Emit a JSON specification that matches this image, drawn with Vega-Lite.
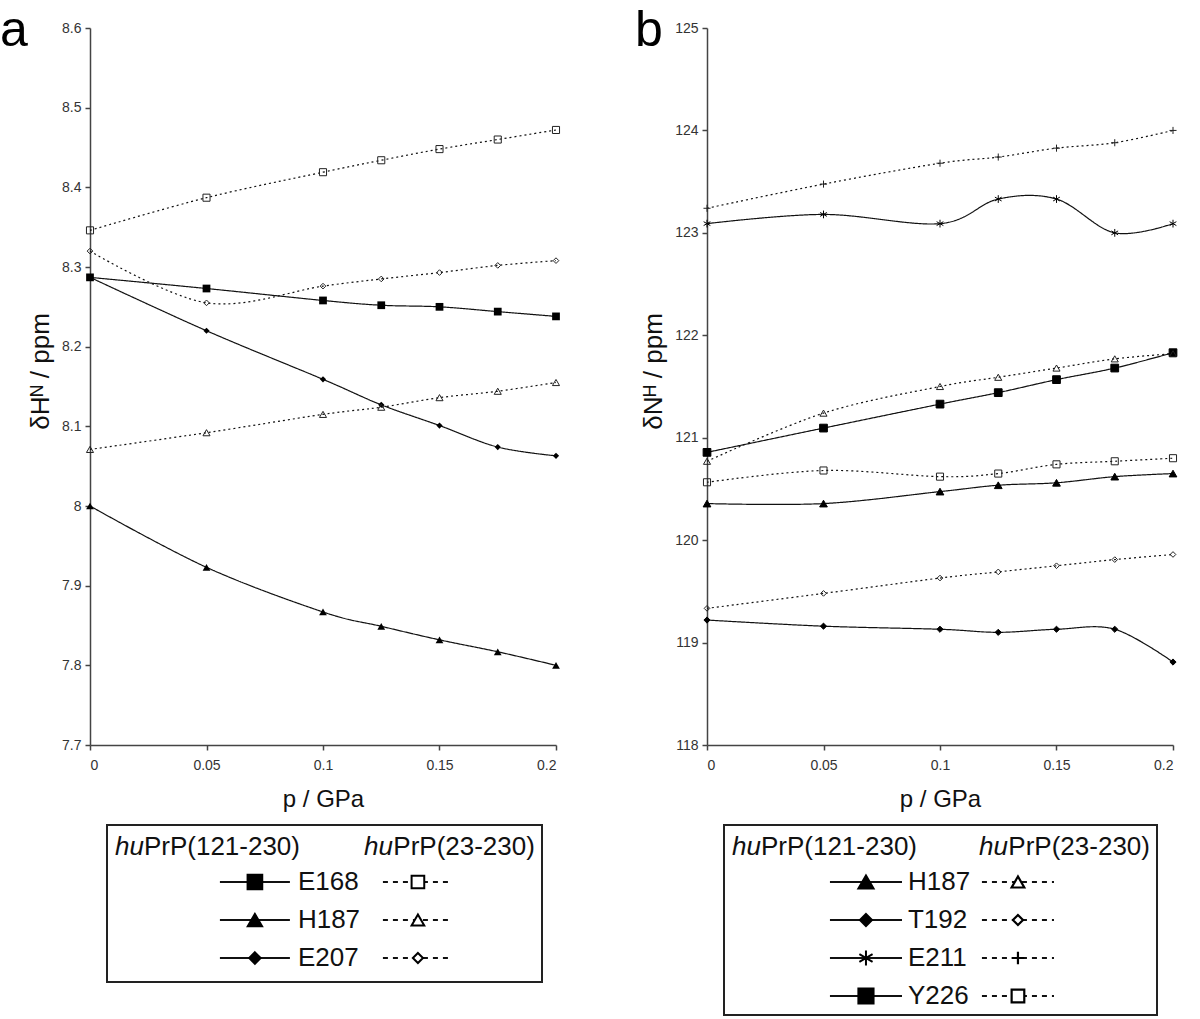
{
  "$schema": "https://vega.github.io/schema/vega-lite/v6.json",
  "padding": {"left": 0, "top": 6, "right": 0, "bottom": 0},
  "background": "white",
  "config": {
    "view": {"stroke": null},
    "font": "Liberation Sans",
    "axis": {"domainColor": "#444", "domainWidth": 1.5, "tickColor": "#444", "tickWidth": 1.5, "tickSize": 5, "labelFontSize": 14, "labelColor": "#333", "labelFont": "Liberation Sans", "titleFont": "Liberation Sans", "titleFontWeight": "normal", "titleColor": "#111", "grid": false},
    "text": {"font": "Liberation Sans", "color": "#111"}
  },
  "datasets": {
    "a": [
      {"residue":"E168","construct":"121-230","series":"E168 121-230","p":0,"shift":8.287},
      {"residue":"E168","construct":"121-230","series":"E168 121-230","p":0.05,"shift":8.273},
      {"residue":"E168","construct":"121-230","series":"E168 121-230","p":0.1,"shift":8.258},
      {"residue":"E168","construct":"121-230","series":"E168 121-230","p":0.125,"shift":8.252},
      {"residue":"E168","construct":"121-230","series":"E168 121-230","p":0.15,"shift":8.250},
      {"residue":"E168","construct":"121-230","series":"E168 121-230","p":0.175,"shift":8.244},
      {"residue":"E168","construct":"121-230","series":"E168 121-230","p":0.2,"shift":8.238},
      {"residue":"H187","construct":"121-230","series":"H187 121-230","p":0,"shift":8.000},
      {"residue":"H187","construct":"121-230","series":"H187 121-230","p":0.05,"shift":7.923},
      {"residue":"H187","construct":"121-230","series":"H187 121-230","p":0.1,"shift":7.867},
      {"residue":"H187","construct":"121-230","series":"H187 121-230","p":0.125,"shift":7.849},
      {"residue":"H187","construct":"121-230","series":"H187 121-230","p":0.15,"shift":7.832},
      {"residue":"H187","construct":"121-230","series":"H187 121-230","p":0.175,"shift":7.817},
      {"residue":"H187","construct":"121-230","series":"H187 121-230","p":0.2,"shift":7.800},
      {"residue":"E207","construct":"121-230","series":"E207 121-230","p":0,"shift":8.287},
      {"residue":"E207","construct":"121-230","series":"E207 121-230","p":0.05,"shift":8.220},
      {"residue":"E207","construct":"121-230","series":"E207 121-230","p":0.1,"shift":8.159},
      {"residue":"E207","construct":"121-230","series":"E207 121-230","p":0.125,"shift":8.127},
      {"residue":"E207","construct":"121-230","series":"E207 121-230","p":0.15,"shift":8.101},
      {"residue":"E207","construct":"121-230","series":"E207 121-230","p":0.175,"shift":8.074},
      {"residue":"E207","construct":"121-230","series":"E207 121-230","p":0.2,"shift":8.063},
      {"residue":"E168","construct":"23-230","series":"E168 23-230","p":0,"shift":8.346},
      {"residue":"E168","construct":"23-230","series":"E168 23-230","p":0.05,"shift":8.387},
      {"residue":"E168","construct":"23-230","series":"E168 23-230","p":0.1,"shift":8.419},
      {"residue":"E168","construct":"23-230","series":"E168 23-230","p":0.125,"shift":8.434},
      {"residue":"E168","construct":"23-230","series":"E168 23-230","p":0.15,"shift":8.448},
      {"residue":"E168","construct":"23-230","series":"E168 23-230","p":0.175,"shift":8.460},
      {"residue":"E168","construct":"23-230","series":"E168 23-230","p":0.2,"shift":8.472},
      {"residue":"H187","construct":"23-230","series":"H187 23-230","p":0,"shift":8.071},
      {"residue":"H187","construct":"23-230","series":"H187 23-230","p":0.05,"shift":8.092},
      {"residue":"H187","construct":"23-230","series":"H187 23-230","p":0.1,"shift":8.115},
      {"residue":"H187","construct":"23-230","series":"H187 23-230","p":0.125,"shift":8.124},
      {"residue":"H187","construct":"23-230","series":"H187 23-230","p":0.15,"shift":8.136},
      {"residue":"H187","construct":"23-230","series":"H187 23-230","p":0.175,"shift":8.144},
      {"residue":"H187","construct":"23-230","series":"H187 23-230","p":0.2,"shift":8.155},
      {"residue":"E207","construct":"23-230","series":"E207 23-230","p":0,"shift":8.320},
      {"residue":"E207","construct":"23-230","series":"E207 23-230","p":0.05,"shift":8.255},
      {"residue":"E207","construct":"23-230","series":"E207 23-230","p":0.1,"shift":8.276},
      {"residue":"E207","construct":"23-230","series":"E207 23-230","p":0.125,"shift":8.285},
      {"residue":"E207","construct":"23-230","series":"E207 23-230","p":0.15,"shift":8.293},
      {"residue":"E207","construct":"23-230","series":"E207 23-230","p":0.175,"shift":8.302},
      {"residue":"E207","construct":"23-230","series":"E207 23-230","p":0.2,"shift":8.308}
    ],
    "b": [
      {"residue":"H187","construct":"121-230","series":"H187 121-230","p":0,"shift":120.357},
      {"residue":"H187","construct":"121-230","series":"H187 121-230","p":0.05,"shift":120.357},
      {"residue":"H187","construct":"121-230","series":"H187 121-230","p":0.1,"shift":120.474},
      {"residue":"H187","construct":"121-230","series":"H187 121-230","p":0.125,"shift":120.536},
      {"residue":"H187","construct":"121-230","series":"H187 121-230","p":0.15,"shift":120.56},
      {"residue":"H187","construct":"121-230","series":"H187 121-230","p":0.175,"shift":120.62},
      {"residue":"H187","construct":"121-230","series":"H187 121-230","p":0.2,"shift":120.65},
      {"residue":"T192","construct":"121-230","series":"T192 121-230","p":0,"shift":119.22},
      {"residue":"T192","construct":"121-230","series":"T192 121-230","p":0.05,"shift":119.16},
      {"residue":"T192","construct":"121-230","series":"T192 121-230","p":0.1,"shift":119.13},
      {"residue":"T192","construct":"121-230","series":"T192 121-230","p":0.125,"shift":119.10},
      {"residue":"T192","construct":"121-230","series":"T192 121-230","p":0.15,"shift":119.13},
      {"residue":"T192","construct":"121-230","series":"T192 121-230","p":0.175,"shift":119.13},
      {"residue":"T192","construct":"121-230","series":"T192 121-230","p":0.2,"shift":118.81},
      {"residue":"E211","construct":"121-230","series":"E211 121-230","p":0,"shift":123.09},
      {"residue":"E211","construct":"121-230","series":"E211 121-230","p":0.05,"shift":123.18},
      {"residue":"E211","construct":"121-230","series":"E211 121-230","p":0.1,"shift":123.09},
      {"residue":"E211","construct":"121-230","series":"E211 121-230","p":0.125,"shift":123.33},
      {"residue":"E211","construct":"121-230","series":"E211 121-230","p":0.15,"shift":123.33},
      {"residue":"E211","construct":"121-230","series":"E211 121-230","p":0.175,"shift":123.00},
      {"residue":"E211","construct":"121-230","series":"E211 121-230","p":0.2,"shift":123.09},
      {"residue":"Y226","construct":"121-230","series":"Y226 121-230","p":0,"shift":120.857},
      {"residue":"Y226","construct":"121-230","series":"Y226 121-230","p":0.05,"shift":121.094},
      {"residue":"Y226","construct":"121-230","series":"Y226 121-230","p":0.1,"shift":121.328},
      {"residue":"Y226","construct":"121-230","series":"Y226 121-230","p":0.125,"shift":121.44},
      {"residue":"Y226","construct":"121-230","series":"Y226 121-230","p":0.15,"shift":121.567},
      {"residue":"Y226","construct":"121-230","series":"Y226 121-230","p":0.175,"shift":121.68},
      {"residue":"Y226","construct":"121-230","series":"Y226 121-230","p":0.2,"shift":121.83},
      {"residue":"H187","construct":"23-230","series":"H187 23-230","p":0,"shift":120.77},
      {"residue":"H187","construct":"23-230","series":"H187 23-230","p":0.05,"shift":121.24},
      {"residue":"H187","construct":"23-230","series":"H187 23-230","p":0.1,"shift":121.50},
      {"residue":"H187","construct":"23-230","series":"H187 23-230","p":0.125,"shift":121.59},
      {"residue":"H187","construct":"23-230","series":"H187 23-230","p":0.15,"shift":121.68},
      {"residue":"H187","construct":"23-230","series":"H187 23-230","p":0.175,"shift":121.77},
      {"residue":"H187","construct":"23-230","series":"H187 23-230","p":0.2,"shift":121.82},
      {"residue":"T192","construct":"23-230","series":"T192 23-230","p":0,"shift":119.334},
      {"residue":"T192","construct":"23-230","series":"T192 23-230","p":0.05,"shift":119.48},
      {"residue":"T192","construct":"23-230","series":"T192 23-230","p":0.1,"shift":119.63},
      {"residue":"T192","construct":"23-230","series":"T192 23-230","p":0.125,"shift":119.69},
      {"residue":"T192","construct":"23-230","series":"T192 23-230","p":0.15,"shift":119.75},
      {"residue":"T192","construct":"23-230","series":"T192 23-230","p":0.175,"shift":119.81},
      {"residue":"T192","construct":"23-230","series":"T192 23-230","p":0.2,"shift":119.86},
      {"residue":"E211","construct":"23-230","series":"E211 23-230","p":0,"shift":123.24},
      {"residue":"E211","construct":"23-230","series":"E211 23-230","p":0.05,"shift":123.476},
      {"residue":"E211","construct":"23-230","series":"E211 23-230","p":0.1,"shift":123.68},
      {"residue":"E211","construct":"23-230","series":"E211 23-230","p":0.125,"shift":123.74},
      {"residue":"E211","construct":"23-230","series":"E211 23-230","p":0.15,"shift":123.827},
      {"residue":"E211","construct":"23-230","series":"E211 23-230","p":0.175,"shift":123.88},
      {"residue":"E211","construct":"23-230","series":"E211 23-230","p":0.2,"shift":124.0},
      {"residue":"Y226","construct":"23-230","series":"Y226 23-230","p":0,"shift":120.565},
      {"residue":"Y226","construct":"23-230","series":"Y226 23-230","p":0.05,"shift":120.68},
      {"residue":"Y226","construct":"23-230","series":"Y226 23-230","p":0.1,"shift":120.62},
      {"residue":"Y226","construct":"23-230","series":"Y226 23-230","p":0.125,"shift":120.65},
      {"residue":"Y226","construct":"23-230","series":"Y226 23-230","p":0.15,"shift":120.74},
      {"residue":"Y226","construct":"23-230","series":"Y226 23-230","p":0.175,"shift":120.77},
      {"residue":"Y226","construct":"23-230","series":"Y226 23-230","p":0.2,"shift":120.80}
    ],
    "legA": [
      {"row":"E168","construct":"121-230","series":"E168 121-230"},
      {"row":"H187","construct":"121-230","series":"H187 121-230"},
      {"row":"E207","construct":"121-230","series":"E207 121-230"},
      {"row":"E168","construct":"23-230","series":"E168 23-230"},
      {"row":"H187","construct":"23-230","series":"H187 23-230"},
      {"row":"E207","construct":"23-230","series":"E207 23-230"}
    ],
    "legB": [
      {"row":"H187","construct":"121-230","series":"H187 121-230"},
      {"row":"T192","construct":"121-230","series":"T192 121-230"},
      {"row":"E211","construct":"121-230","series":"E211 121-230"},
      {"row":"Y226","construct":"121-230","series":"Y226 121-230"},
      {"row":"H187","construct":"23-230","series":"H187 23-230"},
      {"row":"T192","construct":"23-230","series":"T192 23-230"},
      {"row":"E211","construct":"23-230","series":"E211 23-230"},
      {"row":"Y226","construct":"23-230","series":"Y226 23-230"}
    ]
  },
  "vconcat": [
    {
      "hconcat": [
        {
          "width": 466, "height": 717,
          "title": {"text": "a", "fontSize": 50, "fontWeight": "normal", "anchor": "start", "frame": "group", "dx": -90, "offset": -75, "baseline": "alphabetic", "color": "#000"},
          "data": {"name": "a"},
          "encoding": {
            "x": {"field": "p", "type": "quantitative", "scale": {"domain": [0, 0.2], "nice": false}, "axis": {"values": [0, 0.05, 0.1, 0.15, 0.2], "format": "~g", "title": "p / GPa", "titleFontSize": 24, "labelPadding": 8, "titlePadding": 15}},
            "y": {"field": "shift", "type": "quantitative", "scale": {"domain": [7.7, 8.6], "nice": false, "zero": false}, "axis": {"values": [7.7, 7.8, 7.9, 8.0, 8.1, 8.2, 8.3, 8.4, 8.5, 8.6], "format": ".1~f", "title": "δHᴺ / ppm", "titleFontSize": 26, "titlePadding": 8, "labelPadding": 4, "titleY": 343}}
          },
          "layer": [
            {"mark": {"type": "line", "interpolate": "cardinal", "strokeWidth": 1.2, "color": "#111"},
             "encoding": {"detail": {"field": "series", "type": "nominal"},
               "strokeDash": {"field": "construct", "type": "nominal", "scale": {"domain": ["121-230", "23-230"], "range": [[1, 0], [2, 3]]}, "legend": null}}},
            {"transform": [{"filter": {"field": "construct", "equal": "121-230"}}],
             "mark": {"type": "point", "filled": true, "color": "#000", "size": 60, "opacity": 1},
             "encoding": {"shape": {"field": "series", "type": "nominal", "legend": null, "scale": {"domain": ["E168 121-230","H187 121-230","E207 121-230","E168 23-230","H187 23-230","E207 23-230","T192 121-230","E211 121-230","Y226 121-230","T192 23-230","E211 23-230","Y226 23-230"], "range": ["square","triangle-up","M0,-0.8L0.8,0L0,0.8L-0.8,0Z","square","triangle-up","M0,-0.8L0.8,0L0,0.8L-0.8,0Z","M0,-0.8L0.8,0L0,0.8L-0.8,0Z","M0,-1V1M-0.87,-0.5L0.87,0.5M-0.87,0.5L0.87,-0.5","square","M0,-0.8L0.8,0L0,0.8L-0.8,0Z","M-1,0H1M0,-1V1","square"]}}}},
            {"transform": [{"filter": {"field": "construct", "equal": "23-230"}}],
             "mark": {"type": "point", "filled": false, "color": "#222", "strokeWidth": 1, "size": 50, "opacity": 1},
             "encoding": {"shape": {"field": "series", "type": "nominal", "legend": null, "scale": {"domain": ["E168 121-230","H187 121-230","E207 121-230","E168 23-230","H187 23-230","E207 23-230","T192 121-230","E211 121-230","Y226 121-230","T192 23-230","E211 23-230","Y226 23-230"], "range": ["square","triangle-up","M0,-0.8L0.8,0L0,0.8L-0.8,0Z","square","triangle-up","M0,-0.8L0.8,0L0,0.8L-0.8,0Z","M0,-0.8L0.8,0L0,0.8L-0.8,0Z","M0,-1V1M-0.87,-0.5L0.87,0.5M-0.87,0.5L0.87,-0.5","square","M0,-0.8L0.8,0L0,0.8L-0.8,0Z","M-1,0H1M0,-1V1","square"]}}}}
          ]
        },
        {
          "width": 466, "height": 717,
          "title": {"text": "b", "fontSize": 50, "fontWeight": "normal", "anchor": "start", "frame": "group", "dx": -72, "offset": -75, "baseline": "alphabetic", "color": "#000"},
          "data": {"name": "b"},
          "encoding": {
            "x": {"field": "p", "type": "quantitative", "scale": {"domain": [0, 0.2], "nice": false}, "axis": {"values": [0, 0.05, 0.1, 0.15, 0.2], "format": "~g", "title": "p / GPa", "titleFontSize": 24, "labelPadding": 8, "titlePadding": 15}},
            "y": {"field": "shift", "type": "quantitative", "scale": {"domain": [118, 125], "nice": false, "zero": false}, "axis": {"values": [118, 119, 120, 121, 122, 123, 124, 125], "format": "d", "title": "δNᴴ / ppm", "titleFontSize": 26, "titlePadding": 8, "labelPadding": 4, "titleY": 343}}
          },
          "layer": [
            {"mark": {"type": "line", "interpolate": "cardinal", "strokeWidth": 1.2, "color": "#111"},
             "encoding": {"detail": {"field": "series", "type": "nominal"},
               "strokeDash": {"field": "construct", "type": "nominal", "scale": {"domain": ["121-230", "23-230"], "range": [[1, 0], [2, 3]]}, "legend": null}}},
            {"transform": [{"filter": {"field": "construct", "equal": "121-230"}}],
             "mark": {"type": "point", "filled": true, "color": "#000", "stroke": "#000", "strokeWidth": 1, "size": 60, "opacity": 1},
             "encoding": {"shape": {"field": "series", "type": "nominal", "legend": null, "scale": {"domain": ["E168 121-230","H187 121-230","E207 121-230","E168 23-230","H187 23-230","E207 23-230","T192 121-230","E211 121-230","Y226 121-230","T192 23-230","E211 23-230","Y226 23-230"], "range": ["square","triangle-up","M0,-0.8L0.8,0L0,0.8L-0.8,0Z","square","triangle-up","M0,-0.8L0.8,0L0,0.8L-0.8,0Z","M0,-0.8L0.8,0L0,0.8L-0.8,0Z","M0,-1V1M-0.87,-0.5L0.87,0.5M-0.87,0.5L0.87,-0.5","square","M0,-0.8L0.8,0L0,0.8L-0.8,0Z","M-1,0H1M0,-1V1","square"]}}}},
            {"transform": [{"filter": {"field": "construct", "equal": "23-230"}}],
             "mark": {"type": "point", "filled": false, "color": "#222", "strokeWidth": 1, "size": 50, "opacity": 1},
             "encoding": {"shape": {"field": "series", "type": "nominal", "legend": null, "scale": {"domain": ["E168 121-230","H187 121-230","E207 121-230","E168 23-230","H187 23-230","E207 23-230","T192 121-230","E211 121-230","Y226 121-230","T192 23-230","E211 23-230","Y226 23-230"], "range": ["square","triangle-up","M0,-0.8L0.8,0L0,0.8L-0.8,0Z","square","triangle-up","M0,-0.8L0.8,0L0,0.8L-0.8,0Z","M0,-0.8L0.8,0L0,0.8L-0.8,0Z","M0,-1V1M-0.87,-0.5L0.87,0.5M-0.87,0.5L0.87,-0.5","square","M0,-0.8L0.8,0L0,0.8L-0.8,0Z","M-1,0H1M0,-1V1","square"]}}}}
          ]
        }
      ],
      "spacing": 73, "align": "none"
    },
    {
      "hconcat": [
        {"width": 16, "height": 1, "data": {"values": []}, "mark": {"type": "point", "opacity": 0}, "encoding": {}},
        {
          "width": 435, "height": 157,
          "view": {"stroke": "#222", "strokeWidth": 2},
          "data": {"name": "legA"},
          "encoding": {
            "y": {"field": "row", "type": "nominal", "scale": {"type": "point", "domain": ["header", "E168", "H187", "E207"], "padding": 0.566, "align": 0.442}, "axis": null}
          },
          "layer": [
            {"transform": [{"filter": {"field": "construct", "equal": "121-230"}}],
             "mark": {"type": "rule", "strokeWidth": 2, "color": "#111"},
             "encoding": {"x": {"field": "construct", "type": "nominal", "bandPosition": 0, "scale": {"type": "band", "domain": ["121-230", "23-230"], "paddingInner": 0.5706, "paddingOuter": 0.6196, "align": 0.559}, "axis": null},
                          "x2": {"field": "construct", "bandPosition": 1}}},
            {"transform": [{"filter": {"field": "construct", "equal": "23-230"}}],
             "mark": {"type": "rule", "strokeWidth": 2, "color": "#111", "strokeDash": [5, 5]},
             "encoding": {"x": {"field": "construct", "type": "nominal", "bandPosition": 0, "scale": {"type": "band", "domain": ["121-230", "23-230"], "paddingInner": 0.5706, "paddingOuter": 0.6196, "align": 0.559}, "axis": null},
                          "x2": {"field": "construct", "bandPosition": 1}}},
            {"transform": [{"filter": {"field": "construct", "equal": "121-230"}}],
             "mark": {"type": "point", "filled": true, "color": "#000", "stroke": "#000", "strokeWidth": 1.5, "size": 230, "opacity": 1},
             "encoding": {"x": {"field": "construct", "type": "nominal", "bandPosition": 0.5, "scale": {"type": "band", "domain": ["121-230", "23-230"], "paddingInner": 0.5706, "paddingOuter": 0.6196, "align": 0.559}, "axis": null},
                          "shape": {"field": "series", "type": "nominal", "legend": null, "scale": {"domain": ["E168 121-230","H187 121-230","E207 121-230","E168 23-230","H187 23-230","E207 23-230","T192 121-230","E211 121-230","Y226 121-230","T192 23-230","E211 23-230","Y226 23-230"], "range": ["square","triangle-up","M0,-0.8L0.8,0L0,0.8L-0.8,0Z","square","triangle-up","M0,-0.8L0.8,0L0,0.8L-0.8,0Z","M0,-0.8L0.8,0L0,0.8L-0.8,0Z","M0,-1V1M-0.87,-0.5L0.87,0.5M-0.87,0.5L0.87,-0.5","square","M0,-0.8L0.8,0L0,0.8L-0.8,0Z","M-1,0H1M0,-1V1","square"]}}}},
            {"transform": [{"filter": {"field": "construct", "equal": "23-230"}}],
             "mark": {"type": "point", "filled": true, "fill": "white", "stroke": "#000", "strokeWidth": 2, "size": 160, "opacity": 1},
             "encoding": {"x": {"field": "construct", "type": "nominal", "bandPosition": 0.5, "scale": {"type": "band", "domain": ["121-230", "23-230"], "paddingInner": 0.5706, "paddingOuter": 0.6196, "align": 0.559}, "axis": null},
                          "shape": {"field": "series", "type": "nominal", "legend": null, "scale": {"domain": ["E168 121-230","H187 121-230","E207 121-230","E168 23-230","H187 23-230","E207 23-230","T192 121-230","E211 121-230","Y226 121-230","T192 23-230","E211 23-230","Y226 23-230"], "range": ["square","triangle-up","M0,-0.8L0.8,0L0,0.8L-0.8,0Z","square","triangle-up","M0,-0.8L0.8,0L0,0.8L-0.8,0Z","M0,-0.8L0.8,0L0,0.8L-0.8,0Z","M0,-1V1M-0.87,-0.5L0.87,0.5M-0.87,0.5L0.87,-0.5","square","M0,-0.8L0.8,0L0,0.8L-0.8,0Z","M-1,0H1M0,-1V1","square"]}}}},
            {"transform": [{"filter": {"field": "construct", "equal": "121-230"}}],
             "mark": {"type": "text", "align": "left", "baseline": "middle", "dx": 8, "fontSize": 26, "color": "#111"},
             "encoding": {"x": {"field": "construct", "type": "nominal", "bandPosition": 1, "scale": {"type": "band", "domain": ["121-230", "23-230"], "paddingInner": 0.5706, "paddingOuter": 0.6196, "align": 0.559}, "axis": null},
                          "text": {"field": "row", "type": "nominal"}}},
            {"data": {"values": [{"row": "header", "construct": "121-230"}]},
             "mark": {"type": "text", "text": "hu", "fontStyle": "italic", "align": "left", "baseline": "middle", "dx": -105, "dy": 3, "fontSize": 26, "color": "#111"},
             "encoding": {"x": {"field": "construct", "type": "nominal", "bandPosition": 0, "scale": {"type": "band", "domain": ["121-230", "23-230"], "paddingInner": 0.5706, "paddingOuter": 0.6196, "align": 0.559}, "axis": null}}},
            {"data": {"values": [{"row": "header", "construct": "121-230"}]},
             "mark": {"type": "text", "text": "PrP(121-230)", "align": "left", "baseline": "middle", "dx": -76, "dy": 3, "fontSize": 26, "color": "#111"},
             "encoding": {"x": {"field": "construct", "type": "nominal", "bandPosition": 0, "scale": {"type": "band", "domain": ["121-230", "23-230"], "paddingInner": 0.5706, "paddingOuter": 0.6196, "align": 0.559}, "axis": null}}},
            {"data": {"values": [{"row": "header", "construct": "23-230"}]},
             "mark": {"type": "text", "text": "PrP(23-230)", "align": "right", "baseline": "middle", "dx": 82, "dy": 3, "fontSize": 26, "color": "#111"},
             "encoding": {"x": {"field": "construct", "type": "nominal", "bandPosition": 1, "scale": {"type": "band", "domain": ["121-230", "23-230"], "paddingInner": 0.5706, "paddingOuter": 0.6196, "align": 0.559}, "axis": null}}},
            {"data": {"values": [{"row": "header", "construct": "23-230"}]},
             "mark": {"type": "text", "text": "hu", "fontStyle": "italic", "align": "right", "baseline": "middle", "dx": -60, "dy": 3, "fontSize": 26, "color": "#111"},
             "encoding": {"x": {"field": "construct", "type": "nominal", "bandPosition": 1, "scale": {"type": "band", "domain": ["121-230", "23-230"], "paddingInner": 0.5706, "paddingOuter": 0.6196, "align": 0.559}, "axis": null}}}
          ]
        },
        {"width": 180, "height": 1, "data": {"values": []}, "mark": {"type": "point", "opacity": 0}, "encoding": {}},
        {
          "width": 433, "height": 190,
          "view": {"stroke": "#222", "strokeWidth": 2},
          "data": {"name": "legB"},
          "encoding": {
            "y": {"field": "row", "type": "nominal", "scale": {"type": "point", "domain": ["header", "H187", "T192", "E211", "Y226"], "padding": 0.5, "align": 0.5}, "axis": null}
          },
          "layer": [
            {"transform": [{"filter": {"field": "construct", "equal": "121-230"}}],
             "mark": {"type": "rule", "strokeWidth": 2, "color": "#111"},
             "encoding": {"x": {"field": "construct", "type": "nominal", "bandPosition": 0, "scale": {"type": "band", "domain": ["121-230", "23-230"], "paddingInner": 0.526, "paddingOuter": 0.6875, "align": 0.507}, "axis": null},
                          "x2": {"field": "construct", "bandPosition": 1}}},
            {"transform": [{"filter": {"field": "construct", "equal": "23-230"}}],
             "mark": {"type": "rule", "strokeWidth": 2, "color": "#111", "strokeDash": [5, 5]},
             "encoding": {"x": {"field": "construct", "type": "nominal", "bandPosition": 0, "scale": {"type": "band", "domain": ["121-230", "23-230"], "paddingInner": 0.526, "paddingOuter": 0.6875, "align": 0.507}, "axis": null},
                          "x2": {"field": "construct", "bandPosition": 1}}},
            {"transform": [{"filter": {"field": "construct", "equal": "121-230"}}],
             "mark": {"type": "point", "filled": true, "color": "#000", "stroke": "#000", "strokeWidth": 2, "size": 230, "opacity": 1},
             "encoding": {"x": {"field": "construct", "type": "nominal", "bandPosition": 0.5, "scale": {"type": "band", "domain": ["121-230", "23-230"], "paddingInner": 0.526, "paddingOuter": 0.6875, "align": 0.507}, "axis": null},
                          "shape": {"field": "series", "type": "nominal", "legend": null, "scale": {"domain": ["E168 121-230","H187 121-230","E207 121-230","E168 23-230","H187 23-230","E207 23-230","T192 121-230","E211 121-230","Y226 121-230","T192 23-230","E211 23-230","Y226 23-230"], "range": ["square","triangle-up","M0,-0.8L0.8,0L0,0.8L-0.8,0Z","square","triangle-up","M0,-0.8L0.8,0L0,0.8L-0.8,0Z","M0,-0.8L0.8,0L0,0.8L-0.8,0Z","M0,-1V1M-0.87,-0.5L0.87,0.5M-0.87,0.5L0.87,-0.5","square","M0,-0.8L0.8,0L0,0.8L-0.8,0Z","M-1,0H1M0,-1V1","square"]}}}},
            {"transform": [{"filter": {"field": "construct", "equal": "23-230"}}],
             "mark": {"type": "point", "filled": true, "fill": "white", "stroke": "#000", "strokeWidth": 2.2, "size": 160, "opacity": 1},
             "encoding": {"x": {"field": "construct", "type": "nominal", "bandPosition": 0.5, "scale": {"type": "band", "domain": ["121-230", "23-230"], "paddingInner": 0.526, "paddingOuter": 0.6875, "align": 0.507}, "axis": null},
                          "shape": {"field": "series", "type": "nominal", "legend": null, "scale": {"domain": ["E168 121-230","H187 121-230","E207 121-230","E168 23-230","H187 23-230","E207 23-230","T192 121-230","E211 121-230","Y226 121-230","T192 23-230","E211 23-230","Y226 23-230"], "range": ["square","triangle-up","M0,-0.8L0.8,0L0,0.8L-0.8,0Z","square","triangle-up","M0,-0.8L0.8,0L0,0.8L-0.8,0Z","M0,-0.8L0.8,0L0,0.8L-0.8,0Z","M0,-1V1M-0.87,-0.5L0.87,0.5M-0.87,0.5L0.87,-0.5","square","M0,-0.8L0.8,0L0,0.8L-0.8,0Z","M-1,0H1M0,-1V1","square"]}}}},
            {"transform": [{"filter": {"field": "construct", "equal": "121-230"}}],
             "mark": {"type": "text", "align": "left", "baseline": "middle", "dx": 6, "fontSize": 26, "color": "#111"},
             "encoding": {"x": {"field": "construct", "type": "nominal", "bandPosition": 1, "scale": {"type": "band", "domain": ["121-230", "23-230"], "paddingInner": 0.526, "paddingOuter": 0.6875, "align": 0.507}, "axis": null},
                          "text": {"field": "row", "type": "nominal"}}},
            {"data": {"values": [{"row": "header", "construct": "121-230"}]},
             "mark": {"type": "text", "text": "hu", "fontStyle": "italic", "align": "left", "baseline": "middle", "dx": -98, "dy": 3, "fontSize": 26, "color": "#111"},
             "encoding": {"x": {"field": "construct", "type": "nominal", "bandPosition": 0, "scale": {"type": "band", "domain": ["121-230", "23-230"], "paddingInner": 0.526, "paddingOuter": 0.6875, "align": 0.507}, "axis": null}}},
            {"data": {"values": [{"row": "header", "construct": "121-230"}]},
             "mark": {"type": "text", "text": "PrP(121-230)", "align": "left", "baseline": "middle", "dx": -69, "dy": 3, "fontSize": 26, "color": "#111"},
             "encoding": {"x": {"field": "construct", "type": "nominal", "bandPosition": 0, "scale": {"type": "band", "domain": ["121-230", "23-230"], "paddingInner": 0.526, "paddingOuter": 0.6875, "align": 0.507}, "axis": null}}},
            {"data": {"values": [{"row": "header", "construct": "23-230"}]},
             "mark": {"type": "text", "text": "PrP(23-230)", "align": "right", "baseline": "middle", "dx": 96, "dy": 3, "fontSize": 26, "color": "#111"},
             "encoding": {"x": {"field": "construct", "type": "nominal", "bandPosition": 1, "scale": {"type": "band", "domain": ["121-230", "23-230"], "paddingInner": 0.526, "paddingOuter": 0.6875, "align": 0.507}, "axis": null}}},
            {"data": {"values": [{"row": "header", "construct": "23-230"}]},
             "mark": {"type": "text", "text": "hu", "fontStyle": "italic", "align": "right", "baseline": "middle", "dx": -46, "dy": 3, "fontSize": 26, "color": "#111"},
             "encoding": {"x": {"field": "construct", "type": "nominal", "bandPosition": 1, "scale": {"type": "band", "domain": ["121-230", "23-230"], "paddingInner": 0.526, "paddingOuter": 0.6875, "align": 0.507}, "axis": null}}}
          ]
        }
      ],
      "spacing": 0, "align": "none"
    }
  ],
  "spacing": 13, "align": "none"
}
